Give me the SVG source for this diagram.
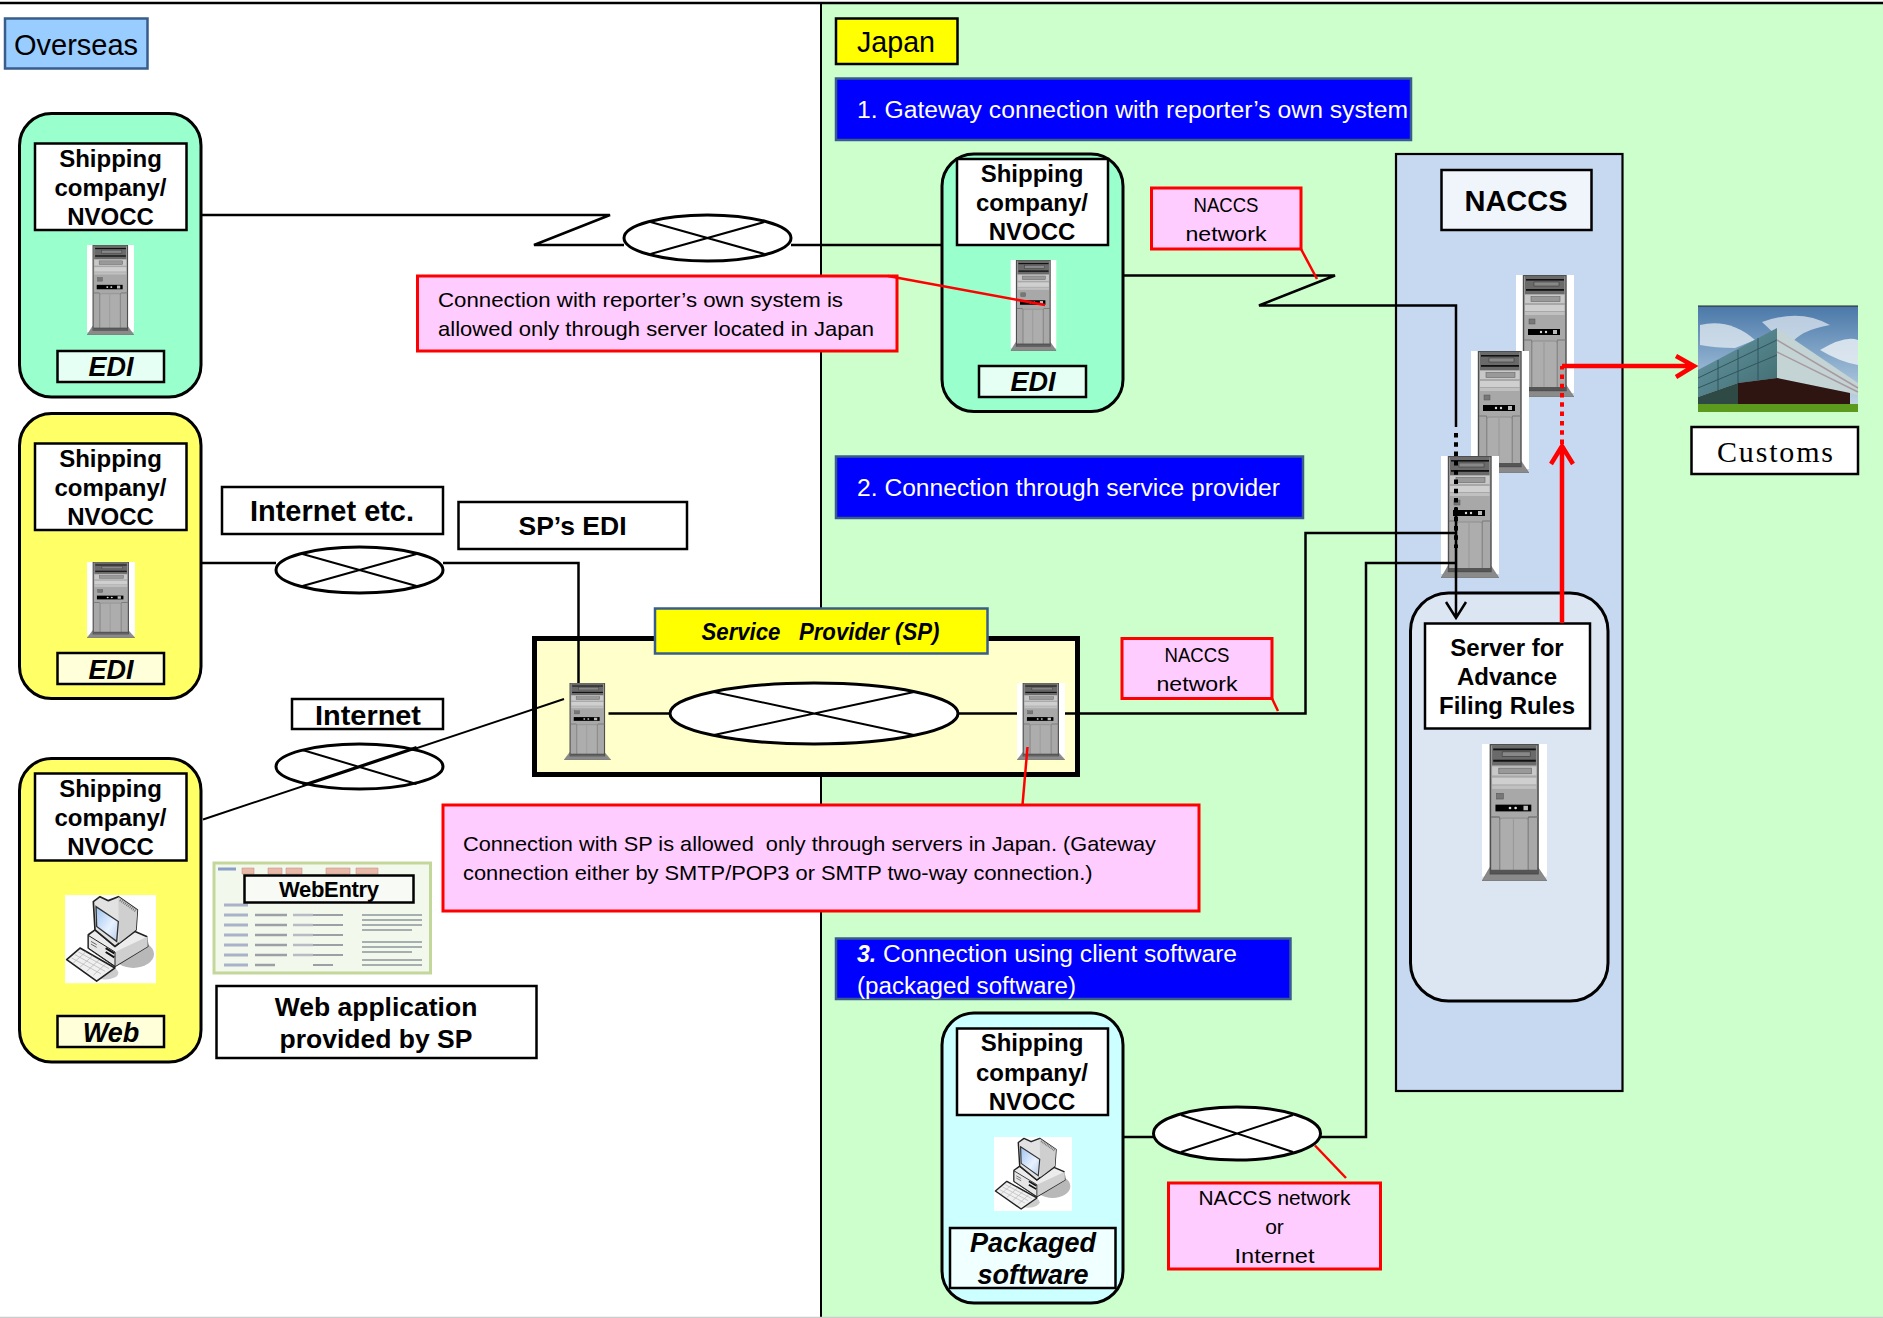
<svg xmlns="http://www.w3.org/2000/svg" width="1883" height="1318" viewBox="0 0 1883 1318">
<style>
text{font-family:"Liberation Sans",Arial,sans-serif;fill:#000}
.b{font-weight:bold;font-size:24px;text-anchor:middle}
.bi{font-weight:bold;font-style:italic;text-anchor:middle}
.c{font-size:21px}
.m{text-anchor:middle}
.w{fill:#fff;font-size:23px}
.lbl{fill:#fff;stroke:#000;stroke-width:2.5}
.org{stroke:#000;stroke-width:3}
.call{fill:#ffccff;stroke:#f00;stroke-width:3}
.blue{fill:#00f;stroke:#385d8a;stroke-width:2.5}
.net{fill:#fff;stroke:#000;stroke-width:3}
.x{stroke:#000;stroke-width:2;fill:none}
.ln{fill:none;stroke:#000;stroke-width:2.5}
.rl{fill:none;stroke:#f00;stroke-width:2.5}
.ra{fill:none;stroke:#f00;stroke-width:4.5}
</style>
<defs>
<linearGradient id="sky" x1="0" y1="0" x2="0" y2="1"><stop offset="0" stop-color="#4a78a8"/><stop offset="0.55" stop-color="#8fb0cf"/><stop offset="1" stop-color="#cbdbe8"/></linearGradient>
<linearGradient id="glass" x1="0" y1="0" x2="1" y2="1"><stop offset="0" stop-color="#6a9aa8"/><stop offset="1" stop-color="#3f6b6e"/></linearGradient>
<linearGradient id="scr" x1="0" y1="0" x2="1" y2="1"><stop offset="0" stop-color="#9dc3f0"/><stop offset="0.6" stop-color="#e8f2ff"/><stop offset="1" stop-color="#b5cdea"/></linearGradient>
<symbol id="tower" viewBox="0 0 58 122" preserveAspectRatio="none">
<polygon points="7,110 50,110 58,122 0,122" fill="#8a8a8a" stroke="#666" stroke-width=".5"/>
<rect x="7.5" y="0.5" width="42.5" height="115" fill="#a8a8a8" stroke="#4f4f4f" stroke-width="1.4"/>
<rect x="9" y="1" width="39.5" height="18" fill="#6a6a6a"/>
<rect x="10" y="4" width="38" height="1.6" fill="#111"/>
<rect x="10" y="14" width="38" height="1.8" fill="#111"/>
<rect x="18" y="7" width="25" height="4" fill="#888" stroke="#333" stroke-width=".5"/>
<rect x="9" y="20" width="39.5" height="8" fill="#c8c8c8"/>
<rect x="15" y="21.5" width="29" height="5" fill="#999" stroke="#666" stroke-width=".6"/>
<rect x="9" y="30" width="39.5" height="6" fill="#cfcfcf"/>
<rect x="9" y="37" width="39.5" height="3" fill="#c0c0c0"/>
<rect x="13" y="44" width="6" height="5" fill="#777" stroke="#555" stroke-width=".5"/>
<rect x="12" y="54" width="32" height="6" fill="#000"/>
<circle cx="25" cy="57" r="1.2" fill="#ddd"/><circle cx="30" cy="57" r="1.2" fill="#ddd"/><rect x="37" y="55" width="4" height="4" fill="#bbb"/>
<path d="M8 65H15Q16 65 16 68V114H41V68Q41 65 42 65H50" fill="none" stroke="#777" stroke-width="1.2"/>
<rect x="16" y="66" width="25" height="48" rx="2" fill="#adadad" stroke="#888" stroke-width=".8"/>
<path d="M28 67V113" stroke="#929292" stroke-width=".8"/>
<rect x="8" y="112" width="42" height="3" fill="#555"/>
</symbol>
<symbol id="server" viewBox="0 0 58 122" preserveAspectRatio="none">
<rect width="58" height="118" fill="#fff"/>
<use href="#tower" width="58" height="122"/>
</symbol>
<symbol id="pc" viewBox="0 0 273 267" preserveAspectRatio="none">
<rect width="273" height="267" fill="#fff"/>
<ellipse cx="205" cy="178" rx="62" ry="42" fill="#b8b8b8"/>
<ellipse cx="120" cy="235" rx="40" ry="20" fill="#ccc"/>
<polygon points="70,120 90,105 150,155 210,110 245,125 248,155 150,215 70,160" fill="#ececec" stroke="#222" stroke-width="5" stroke-linejoin="round"/>
<polygon points="150,172 248,125 248,155 150,215" fill="#cfcfcf"/>
<polygon points="70,122 150,172 150,215 70,160" fill="#e6e6e6" stroke="#222" stroke-width="3"/>
<path d="M78 140L95 150M78 148L95 158" stroke="#666" stroke-width="3"/>
<path d="M122 160L148 176M122 172L148 188" stroke="#111" stroke-width="6"/>
<polygon points="85,20 105,5 130,17 160,5 217,45 213,105 150,155 90,105" fill="#e2e2e2" stroke="#222" stroke-width="5" stroke-linejoin="round"/>
<polygon points="160,5 217,45 213,105 162,145" fill="#cfcfcf"/>
<path d="M165 15L212 48" stroke="#777" stroke-width="8" stroke-dasharray="3 3"/>
<polygon points="93,35 160,80 155,140 95,95" fill="url(#scr)" stroke="#333" stroke-width="4"/>
<polygon points="5,195 45,160 150,220 95,260" fill="#f0f0f0" stroke="#222" stroke-width="5" stroke-linejoin="round"/>
<path d="M20 190L108 238M30 180L120 230M40 172L132 222M25 205L62 172M45 218L82 184M65 230L102 196M85 242L122 208" stroke="#bbb" stroke-width="2.5" fill="none"/>
</symbol>
</defs>

<g id="background">
<rect x="0" y="0" width="1883" height="1318" fill="#fff"/>
<rect x="821" y="3" width="1062" height="1315" fill="#ccffcc"/>
<path d="M821 3V1318" stroke="#000" stroke-width="2" fill="none"/>
<path d="M0 3H1883" stroke="#000" stroke-width="2.5" fill="none"/>
<path d="M0 1317.5H1883" stroke="#ccc" stroke-width="1.5" fill="none"/>
</g>

<g id="overseas-label"><rect x="5" y="18.500" width="142.500" height="50" fill="#99ccff" stroke="#385d8a" stroke-width="2.500"/><text x="76" y="55" font-size="29" class="m" textLength="124">Overseas</text></g>
<g id="japan-label"><rect x="836" y="18.500" width="121.500" height="45.500" fill="#ff0" stroke="#000" stroke-width="2.500"/><text x="896" y="52" font-size="29" class="m" textLength="78" lengthAdjust="spacingAndGlyphs">Japan</text></g>

<g id="heading-1"><rect class="blue" x="836" y="78.500" width="575" height="61.500"/><text class="w" x="857" y="118" textLength="551" lengthAdjust="spacingAndGlyphs">1. Gateway connection with reporter’s own system</text></g>
<g id="heading-2"><rect class="blue" x="836" y="456.500" width="467" height="61.500"/><text class="w" x="857" y="496" textLength="423" lengthAdjust="spacingAndGlyphs">2. Connection through service provider</text></g>
<g id="heading-3"><rect class="blue" x="836" y="938.500" width="454.500" height="60.500"/><text class="w" x="857" y="962" font-weight="bold" font-style="italic">3.</text><text class="w" x="883" y="962" textLength="354" lengthAdjust="spacingAndGlyphs">Connection using client software</text><text class="w" x="857" y="994" textLength="219" lengthAdjust="spacingAndGlyphs">(packaged software)</text></g>

<g id="naccs">
<rect x="1396" y="154" width="226.500" height="937" fill="#c6d9f1" stroke="#000" stroke-width="2.200"/>
<rect x="1441.500" y="170" width="150" height="60" fill="#f0f4fb" stroke="#000" stroke-width="2.500"/>
<text x="1516" y="211" font-size="29" font-weight="bold" class="m">NACCS</text>
<use href="#server" x="1516" y="275" width="58" height="122"/>
<use href="#server" x="1471" y="351" width="58" height="122"/>
<use href="#server" x="1441" y="456" width="58" height="122"/>
</g>
<g id="afr-server">
<rect x="1410.500" y="593" width="197.500" height="408" rx="38" fill="#dce6f2" stroke="#000" stroke-width="3"/>
<rect class="lbl" x="1425" y="623.500" width="165" height="105"/>
<text class="b" x="1507" y="656">Server for</text><text class="b" x="1507" y="685">Advance</text><text class="b" x="1507" y="714">Filing Rules</text>
<use href="#server" x="1482" y="744" width="65" height="137"/>
</g>
<g id="customs">
<rect x="1698" y="306" width="160" height="106" fill="url(#sky)"/>
<path d="M1700 325Q1730 318 1755 340L1735 348Q1715 348 1700 345Z" fill="#e6edf3" opacity=".75"/>
<path d="M1762 322Q1800 308 1830 325Q1800 330 1790 345Q1775 335 1762 322Z" fill="#e6edf3" opacity=".7"/>
<path d="M1820 350Q1845 335 1858 340V365Q1840 362 1820 350Z" fill="#eef3f6" opacity=".8"/>
<polygon points="1698,370 1777,328 1777,378 1738,383 1698,397" fill="url(#glass)"/>
<path d="M1698 378L1777 340M1698 388L1777 355M1718 360V392M1738 350V384M1758 338V380" stroke="#2f5560" stroke-width="1" fill="none"/>
<polygon points="1777,328 1858,383 1858,395 1777,378" fill="#c4d3d4"/>
<path d="M1777 340L1858 388M1777 352L1858 392" stroke="#a89aa0" stroke-width="1.500" fill="none"/>
<polygon points="1738,383 1777,378 1850,393 1850,404 1738,405" fill="#2e1512"/>
<polygon points="1698,397 1738,383 1738,405 1698,405" fill="#2f4a44"/>
<rect x="1698" y="404" width="160" height="8" fill="#5c9a1e"/>
<path d="M1698 306H1858" stroke="#222" stroke-width="1" fill="none"/>
<rect class="lbl" x="1691.500" y="427" width="166.500" height="47"/>
<text x="1775" y="462" font-size="30" class="m" style="font-family:'Liberation Serif',serif" textLength="116" lengthAdjust="spacing">Customs</text>
</g>

<g id="overseas-edi-1">
<rect class="org" x="19.500" y="113.500" width="181.500" height="283.500" rx="32" fill="#99ffcc"/>
<rect class="lbl" x="35" y="143.500" width="151.500" height="86.500"/>
<text class="b" x="110.500" y="167">Shipping</text><text class="b" x="110.500" y="196">company/</text><text class="b" x="110.500" y="225">NVOCC</text>
<use href="#server" x="87" y="245" width="47" height="90"/>
<rect class="lbl" x="57.500" y="351" width="106.500" height="31" style="fill:#e6fff5"/>
<text class="bi" x="111" y="376" font-size="27">EDI</text>
</g>
<g id="overseas-edi-2">
<rect class="org" x="19.500" y="413.500" width="181.500" height="285" rx="32" fill="#ffff66"/>
<rect class="lbl" x="35" y="443.500" width="151.500" height="86.500"/>
<text class="b" x="110.500" y="467">Shipping</text><text class="b" x="110.500" y="496">company/</text><text class="b" x="110.500" y="525">NVOCC</text>
<use href="#server" x="87" y="562" width="48" height="76"/>
<rect class="lbl" x="57.500" y="653" width="106.500" height="31" style="fill:#ffffd9"/>
<text class="bi" x="111" y="679" font-size="27">EDI</text>
</g>
<g id="overseas-web">
<rect class="org" x="19.500" y="758.500" width="181.500" height="303.500" rx="32" fill="#ffff66"/>
<rect class="lbl" x="35" y="773.500" width="151.500" height="87"/>
<text class="b" x="110.500" y="797">Shipping</text><text class="b" x="110.500" y="826">company/</text><text class="b" x="110.500" y="855">NVOCC</text>
<use href="#pc" x="65" y="895" width="91" height="88.500"/>
<rect class="lbl" x="57.500" y="1016" width="106.500" height="31" style="fill:#ffffd9"/>
<text class="bi" x="111" y="1042" font-size="27">Web</text>
</g>

<g id="japan-edi">
<rect class="org" x="942" y="154" width="181" height="257.500" rx="32" fill="#99ffcc"/>
<rect class="lbl" x="957" y="159" width="151" height="86"/>
<text class="b" x="1032" y="182">Shipping</text><text class="b" x="1032" y="211">company/</text><text class="b" x="1032" y="240">NVOCC</text>
<use href="#server" x="1010.500" y="260" width="46" height="91"/>
<rect class="lbl" x="979" y="366" width="107" height="31" style="fill:#e6fff5"/>
<text class="bi" x="1033" y="391" font-size="27">EDI</text>
</g>
<g id="japan-packaged">
<rect class="org" x="942" y="1013" width="181" height="290" rx="32" fill="#ccffff"/>
<rect class="lbl" x="957" y="1028.500" width="151" height="86.500"/>
<text class="b" x="1032" y="1051">Shipping</text><text class="b" x="1032" y="1081">company/</text><text class="b" x="1032" y="1110">NVOCC</text>
<use href="#pc" x="994" y="1137" width="78" height="74"/>
<rect class="lbl" x="950" y="1228" width="165.500" height="60" style="fill:#f0ffff"/>
<text class="bi" x="1033" y="1252" font-size="27">Packaged</text><text class="bi" x="1033" y="1284" font-size="27">software</text>
</g>

<g id="service-provider">
<rect x="534.500" y="638.500" width="543" height="136" fill="#ffffcc" stroke="#000" stroke-width="5"/>
<rect x="655" y="608.500" width="332.500" height="45" fill="#ff0" stroke="#385d8a" stroke-width="2.500"/>
<text x="701.500" y="640" font-size="23" font-weight="bold" font-style="italic" textLength="238" lengthAdjust="spacingAndGlyphs" xml:space="preserve">Service   Provider (SP)</text>
<use href="#tower" x="564" y="683" width="47" height="77"/>
<use href="#server" x="1017" y="683" width="48" height="77"/>
</g>

<g id="net-1"><ellipse class="net" cx="707.500" cy="238" rx="83.500" ry="23"/><path class="x" d="M650.500 222L764.500 254M650.500 254L764.500 222"/></g>
<g id="net-2"><ellipse class="net" cx="359.500" cy="570" rx="83.500" ry="23"/><path class="x" d="M302.500 554L416.500 586M302.500 586L416.500 554"/></g>
<g id="net-3"><ellipse class="net" cx="359.500" cy="766.500" rx="83.500" ry="22.500"/><path class="x" d="M302.500 750L416.500 784M302.500 785L416.500 747"/></g>
<g id="net-sp"><ellipse class="net" cx="814" cy="713.500" rx="144" ry="30.500"/><path class="x" d="M714 692L914 735M714 735L914 692"/></g>
<g id="net-4"><ellipse class="net" cx="1237" cy="1133.500" rx="83.500" ry="26.500"/><path class="x" d="M1181 1115L1293 1152M1181 1152L1293 1115"/></g>

<g id="internet-etc"><rect class="lbl" x="222" y="487" width="221" height="47"/><text x="332" y="521" font-size="29" font-weight="bold" class="m" textLength="164" lengthAdjust="spacingAndGlyphs">Internet etc.</text></g>
<g id="sp-edi"><rect class="lbl" x="458.500" y="502" width="228.500" height="47"/><text x="572.500" y="535" font-size="26.500" font-weight="bold" class="m">SP’s EDI</text></g>
<g id="internet"><rect class="lbl" x="292" y="699" width="151" height="30"/><text x="368" y="725" font-size="28" font-weight="bold" class="m" textLength="106" lengthAdjust="spacingAndGlyphs">Internet</text></g>

<g id="webentry">
<rect x="214" y="863" width="216.500" height="110" fill="#f2f8ec" stroke="#c4d79b" stroke-width="3"/>
<path d="M242 868h12v6h-12zM268 868h14v6h-14zM286 868h16v6h-16zM326 868h24v6h-24zM356 868h22v6h-22z" fill="#e9b9a8" stroke="#b88" stroke-width=".5"/>
<path d="M218 869h18" stroke="#8aa0c8" stroke-width="3" fill="none"/>
<path d="M224 905h24M224 915h24M224 925h24M224 935h24M224 945h24M224 955h24M224 965h24" stroke="#a9b2c9" stroke-width="3" fill="none"/>
<path d="M255 915h32M255 925h32M255 935h32M255 945h32M255 955h32M255 965h20" stroke="#9aa0a6" stroke-width="2.500" fill="none"/>
<path d="M293 915h20M293 925h20M293 935h20M293 945h20M293 955h20" stroke="#b7bcc4" stroke-width="2.500" fill="none"/>
<path d="M313 915h30M313 925h30M313 935h30M313 945h30M313 955h30M313 965h20" stroke="#9aa0a6" stroke-width="2" fill="none"/>
<path d="M362 915h60M362 920h60M362 925h60M362 930h50M362 942h60M362 947h60M362 952h50M362 960h60M362 965h60" stroke="#8f959c" stroke-width="1.500" fill="none"/>
<rect x="244.500" y="875.500" width="169" height="27" fill="#f8fbf5" stroke="#000" stroke-width="2.500"/>
<text x="329" y="897" font-size="22" font-weight="bold" class="m" textLength="100">WebEntry</text>
</g>
<g id="web-application"><rect class="lbl" x="216.500" y="986" width="320" height="72"/><text x="376" y="1016" font-size="26.500" font-weight="bold" class="m">Web application</text><text x="376" y="1048" font-size="26.500" font-weight="bold" class="m">provided by SP</text></g>

<g id="callout-own-system"><rect class="call" x="417.500" y="276" width="479.500" height="75"/><text class="c" x="438" y="307" textLength="405" lengthAdjust="spacingAndGlyphs">Connection with reporter’s own system is</text><text class="c" x="438" y="336" textLength="436" lengthAdjust="spacingAndGlyphs">allowed only through server located in Japan</text></g>
<g id="callout-sp"><rect class="call" x="443" y="805" width="756" height="106"/><text class="c" x="463" y="851" textLength="693" lengthAdjust="spacingAndGlyphs" xml:space="preserve">Connection with SP is allowed  only through servers in Japan. (Gateway</text><text class="c" x="463" y="880" textLength="629.500" lengthAdjust="spacingAndGlyphs">connection either by SMTP/POP3 or SMTP two-way connection.)</text></g>
<g id="callout-naccs-1"><rect class="call" x="1151.500" y="188" width="149.500" height="61"/><text class="c m" x="1226" y="211.500" textLength="65" lengthAdjust="spacingAndGlyphs">NACCS</text><text class="c m" x="1226" y="240.500" textLength="81" lengthAdjust="spacingAndGlyphs">network</text></g>
<g id="callout-naccs-2"><rect class="call" x="1122" y="638.500" width="150" height="60"/><text class="c m" x="1197" y="662" textLength="65" lengthAdjust="spacingAndGlyphs">NACCS</text><text class="c m" x="1197" y="690.500" textLength="81" lengthAdjust="spacingAndGlyphs">network</text></g>
<g id="callout-naccs-3"><rect class="call" x="1168.500" y="1183" width="212" height="86"/><text class="c m" x="1274.500" y="1204.500" textLength="152" lengthAdjust="spacingAndGlyphs">NACCS network</text><text class="c m" x="1274.500" y="1233.500">or</text><text class="c m" x="1274.500" y="1262.500" textLength="80" lengthAdjust="spacingAndGlyphs">Internet</text></g>

<g id="connectors">
<path class="ln" d="M201 215H610L534 245H624M791 245H942"/>
<path class="ln" d="M1123 275.500H1335L1259 305.500H1456V427"/>
<path d="M1456 433V548" fill="none" stroke="#000" stroke-width="4" stroke-dasharray="4.500 4.800"/>
<path class="ln" d="M1456 507V617M1446 602L1456 618L1466 602"/>
<path class="ln" d="M201 563H276M443 563H578.500V683"/>
<path class="ln" style="stroke-width:2" d="M203 819.500L564 699"/>
<path class="ln" d="M608.500 713.500H670M958 713.500H1017M1065 713.500H1305.500V533H1456"/>
<path class="ln" d="M1123 1137H1153.500M1320 1137H1366V563H1456"/>
<path class="rl" d="M888 276L1045 305"/>
<path class="rl" d="M1301 249L1317 279"/>
<path class="rl" d="M1272 698.500L1278 711"/>
<path class="rl" d="M1022.500 805L1027.500 747"/>
<path class="rl" d="M1315 1145.500L1346 1178"/>
<path class="ra" d="M1562 623V446M1551 464L1562 446L1573 464"/>
<path d="M1562 444V366" fill="none" stroke="#f00" stroke-width="4" stroke-dasharray="4.500 4.800"/>
<path class="ra" d="M1562 366H1693M1676 356L1694 366L1676 377"/>
</g>
</svg>
